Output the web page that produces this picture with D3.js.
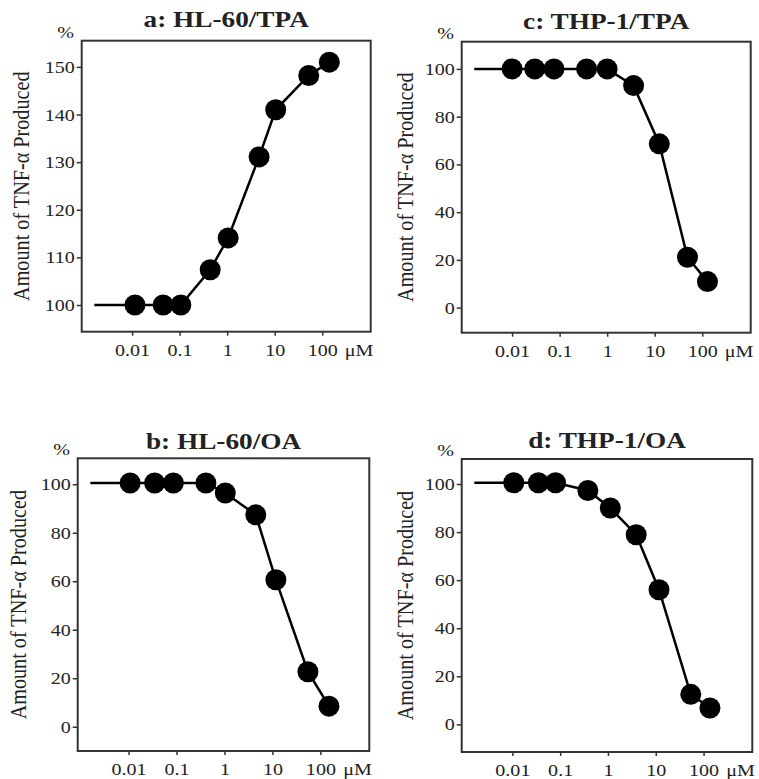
<!DOCTYPE html>
<html>
<head>
<meta charset="utf-8">
<script src="https://cdn.jsdelivr.net/npm/d3@7"></script>
<style>
  body { margin: 0; background: #fff; }
  text { font-family: "Liberation Serif", "Times New Roman", serif; fill: #222; }
</style>
</head>
<body>
<script>
// concentrations (uM) and TNF-alpha amounts (%)
const dosesA  = [0.0115, 0.045, 0.106, 0.44, 1.05, 4.7, 10.5, 52, 141];
const valuesA = [100, 100, 100, 107.4, 114.1, 131.1, 141, 148.2, 151];

const dosesB  = [0.0108, 0.035, 0.086, 0.41, 1.04, 4.5, 11.8, 55, 151];
const valuesB = [100.5, 100.5, 100.5, 100.5, 96.4, 87.4, 60.6, 22.7, 8.5];

const dosesC  = [0.01, 0.03, 0.076, 0.37, 1, 3.6, 12.5, 49, 129];
const valuesC = [100, 100, 100, 100, 100, 93, 68.6, 21.1, 10.9];

const dosesD  = [0.0107, 0.035, 0.08, 0.38, 1.12, 3.9, 11.7, 54, 136];
const valuesD = [100.5, 100.5, 100.5, 97.3, 90, 78.9, 56, 12.5, 6.8];

// the line starts at a control dose, without a marker
const controlDose = 0.0016;

const xTicks = [0.01, 0.1, 1, 10, 100];
const xTickLabels = ["0.01", "0.1", "1", "10", "100"];
const yTicksA = [100, 110, 120, 130, 140, 150];
const yTicksInh = [0, 20, 40, 60, 80, 100];

const yLabel = "Amount of TNF-\u03b1 Produced";
const unitLabel = "\u03bcM";

// layout of each panel (box edges in px)
const panels = [
  { title: "a: HL-60/TPA", doses: dosesA, values: valuesA, yTicks: yTicksA, yDomain: [94.4, 155.5],
    left: 81.7, top: 40.7, right: 370.7, bottom: 331.7, titleDy: 13.4, labelDx: 53.2 },
  { title: "c: THP-1/TPA", doses: dosesC, values: valuesC, yTicks: yTicksInh, yDomain: [-10.5, 111.4],
    left: 461.7, top: 41.7, right: 750.7, bottom: 332.7, titleDy: 12.4, labelDx: 48.4 },
  { title: "b: HL-60/OA", doses: dosesB, values: valuesB, yTicks: yTicksInh, yDomain: [-10, 110.7],
    left: 77.7, top: 458.3, right: 369.3, bottom: 751, titleDy: 9, labelDx: 52 },
  { title: "d: THP-1/OA", doses: dosesD, values: valuesD, yTicks: yTicksInh, yDomain: [-11.5, 110.4],
    left: 461.7, top: 459, right: 752.3, bottom: 752, titleDy: 10.7, labelDx: 48.4 }
];

const width = 759, height = 779;
const stretch = 1.16; // the original figure is a bit wider than tall

const svg = d3.select("body").append("svg")
  .attr("width", width)
  .attr("height", height)
  .attr("viewBox", [0, 0, width, height]);

panels.forEach(p => {
  const x = d3.scaleLog().domain([Math.pow(10, -3.06), Math.pow(10, 3.02)]).range([p.left, p.right]);
  const y = d3.scaleLinear().domain(p.yDomain).range([p.bottom, p.top]);
  const g = svg.append("g");

  // x axis
  const ax = g.append("g")
    .attr("transform", `translate(0,${p.bottom})`)
    .call(d3.axisBottom(x).tickValues(xTicks).tickFormat((d, i) => xTickLabels[i]).tickSize(4).tickPadding(8));
  ax.select(".domain").remove();
  ax.selectAll("line").attr("stroke", "#333").attr("stroke-width", 1.5);
  ax.selectAll("text")
    .attr("font-size", 17.3).attr("font-family", null).attr("fill", "#222")
    .attr("transform", `scale(${stretch},1)`);

  // y axis
  const ay = g.append("g")
    .attr("transform", `translate(${p.left},0)`)
    .call(d3.axisLeft(y).tickValues(p.yTicks).tickSize(5).tickPadding(1));
  ay.select(".domain").remove();
  ay.selectAll("line").attr("stroke", "#333").attr("stroke-width", 1.5);
  ay.selectAll("text")
    .attr("font-size", 17.3).attr("fill", "#222")
    .attr("transform", `scale(${stretch},1)`);

  // frame
  g.append("rect")
    .attr("x", p.left).attr("y", p.top)
    .attr("width", p.right - p.left).attr("height", p.bottom - p.top)
    .attr("fill", "none").attr("stroke", "#333").attr("stroke-width", 2);

  // curve
  const pts = [[controlDose, p.values[0]]].concat(p.doses.map((d, i) => [d, p.values[i]]));
  g.append("path")
    .datum(pts)
    .attr("fill", "none").attr("stroke", "#000").attr("stroke-width", 2.5)
    .attr("d", d3.line().x(d => x(d[0])).y(d => y(d[1])));

  g.selectAll("circle")
    .data(p.doses.map((d, i) => [d, p.values[i]]))
    .enter().append("circle")
    .attr("cx", d => x(d[0]))
    .attr("cy", d => y(d[1]))
    .attr("r", 10.5)
    .attr("fill", "#000");

  // title
  g.append("text")
    .attr("transform", `translate(${(p.left + p.right) / 2},${p.top - p.titleDy}) scale(${stretch},1)`)
    .attr("text-anchor", "middle")
    .attr("font-size", 23.5).attr("font-weight", "bold").attr("fill", "#111")
    .text(p.title);

  // % label
  g.append("text")
    .attr("transform", `translate(${p.left - 16},${p.top - 3}) scale(${stretch},1)`)
    .attr("text-anchor", "middle")
    .attr("font-size", 17.3)
    .text("%");

  // unit label
  g.append("text")
    .attr("transform", `translate(${p.right - 26},${p.bottom + 24.3}) scale(${stretch},1)`)
    .attr("font-size", 17.3)
    .text(unitLabel);

  // y label
  g.append("text")
    .attr("transform", `translate(${p.left - p.labelDx},${(p.top + p.bottom) / 2}) rotate(-90) scale(1,${stretch})`)
    .attr("text-anchor", "middle")
    .attr("font-size", 20.2)
    .text(yLabel);
});
</script>
</body>
</html>
